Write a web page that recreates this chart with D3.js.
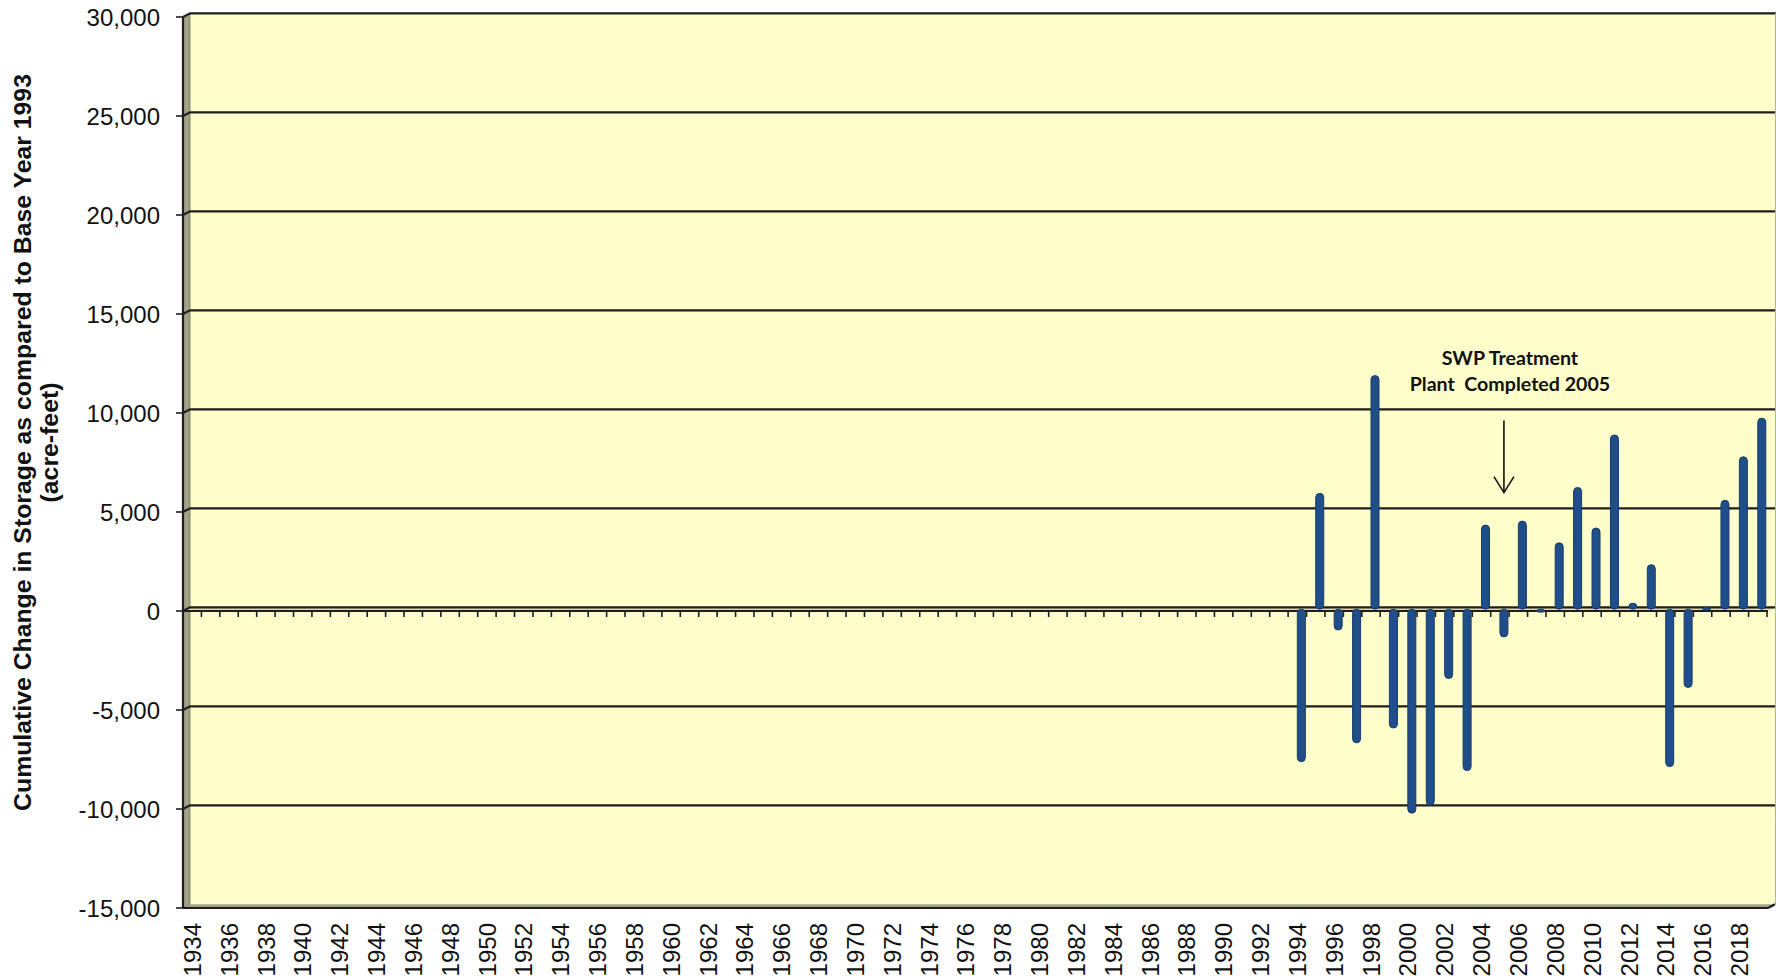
<!DOCTYPE html>
<html>
<head>
<meta charset="utf-8">
<script src="https://cdn.jsdelivr.net/npm/d3@7"></script>
<style>
  html, body { margin: 0; padding: 0; background: #ffffff; }
  svg { display: block; }
</style>
</head>
<body>
<svg id="chart" width="1776" height="979"></svg>
<script>
// ---------- data ----------
const firstYear = 1934;
const lastYear = 2019;
const barYears = [1994, 1995, 1996, 1997, 1998, 1999, 2000, 2001, 2002, 2003, 2004, 2005, 2006,
                  2007, 2008, 2009, 2010, 2011, 2012, 2013, 2014, 2015, 2016, 2017, 2018, 2019];
const barValues = [-7700, 5850, -1050, -6750, 11800, -6000, -10300, -9900, -3500, -8150, 4250, -1400, 4450,
                   -150, 3350, 6150, 4100, 8800, 300, 2250, -7950, -3950, 100, 5500, 7700, 9650];
const yTicks = [-15000, -10000, -5000, 0, 5000, 10000, 15000, 20000, 25000, 30000];
const yTitleLines = ["Cumulative Change in Storage as compared to Base Year 1993", "(acre-feet)"];
const noteLines = ["SWP Treatment", "Plant  Completed 2005"];
const noteYear = 2005;

// ---------- layout ----------
const svg = d3.select("#chart");
const W = 1776;
const years = d3.range(firstYear, lastYear + 1);
const x = d3.scaleBand().domain(years).range([183, 1767]).padding(0);
const y = d3.scaleLinear().domain([-15000, 30000]).range([908, 17]);
const DX = 7, DY = -3.7;          // back-wall depth offset (3D look)
const BDX = 4, BDY = -1.8;        // bar depth offset
const left = x.range()[0], right = x.range()[1];
const yTop = y(30000), yBot = y(-15000), y0 = y(0);
const wallCol = "#FFFFCC";
const sideCol = "#A3A186";
const lineCol = "#1e1e1e";
const fmt = v => d3.format(",")(v).replace("\u2212", "-");

// back wall
svg.append("rect")
  .attr("x", left + DX).attr("y", yTop + DY)
  .attr("width", W - (left + DX)).attr("height", yBot - yTop)
  .attr("fill", wallCol);

// left side wall
svg.append("polygon")
  .attr("points", [[left, yTop], [left + DX, yTop + DY], [left + DX, yBot + DY], [left, yBot]].join(" "))
  .attr("fill", sideCol).attr("stroke", "#6f6d58").attr("stroke-width", 0.8);

// floor
svg.append("polygon")
  .attr("points", [[left, yBot], [left + DX, yBot + DY], [W, yBot + DY], [W, yBot + DY], [right + 1, yBot]].join(" "))
  .attr("fill", sideCol);
svg.append("line")
  .attr("x1", left).attr("x2", right + 1).attr("y1", yBot).attr("y2", yBot)
  .attr("stroke", lineCol).attr("stroke-width", 2.2);
svg.append("line")
  .attr("x1", right + 1).attr("x2", right + 1 + DX).attr("y1", yBot).attr("y2", yBot + DY)
  .attr("stroke", lineCol).attr("stroke-width", 2.2);

// zero "floor" band
svg.append("polygon")
  .attr("points", [[left, y0], [left + DX, y0 + DY], [W, y0 + DY], [right + 1, y0]].join(" "))
  .attr("fill", "#DEDBAE");

// gridlines (back wall + slant on side wall)
yTicks.forEach(t => {
  if (t === -15000) return;
  svg.append("polyline")
    .attr("points", [[left, y(t)], [left + DX, y(t) + DY], [W, y(t) + DY]].join(" "))
    .attr("fill", "none").attr("stroke", lineCol).attr("stroke-width", 2.2);
});
// right edge of back wall
svg.append("line")
  .attr("x1", W - 0.5).attr("x2", W - 0.5).attr("y1", yTop + DY).attr("y2", yBot + DY)
  .attr("stroke", "#b5b39a").attr("stroke-width", 1);

// y axis
svg.append("line")
  .attr("x1", left).attr("x2", left).attr("y1", yTop).attr("y2", yBot)
  .attr("stroke", lineCol).attr("stroke-width", 2.2);
const yAxisG = svg.append("g");
yTicks.forEach(t => {
  yAxisG.append("line").attr("x1", left - 7).attr("x2", left).attr("y1", y(t)).attr("y2", y(t))
    .attr("stroke", lineCol).attr("stroke-width", 1.6);
  yAxisG.append("text")
    .attr("x", 160).attr("y", y(t)).attr("dy", "0.36em")
    .attr("text-anchor", "end")
    .attr("font-family", "'Liberation Sans', Arial, sans-serif")
    .attr("font-size", 24).attr("fill", "#111")
    .text(fmt(t));
});

// x axis at zero with category ticks
svg.append("line")
  .attr("x1", left).attr("x2", right + 1).attr("y1", y0).attr("y2", y0)
  .attr("stroke", lineCol).attr("stroke-width", 2.2);
const xTickPos = years.map(yr => x(yr)).concat([right]);
svg.append("g").selectAll("line").data(xTickPos).join("line")
  .attr("x1", d => d).attr("x2", d => d)
  .attr("y1", y0).attr("y2", y0 + 6)
  .attr("stroke", lineCol).attr("stroke-width", 1.6);

// bars
const barData = barYears.map((yr, i) => ({ year: yr, value: barValues[i] }));
const bw = 8;
svg.append("g").selectAll("rect").data(barData).join("rect")
  .attr("x", d => x(d.year) + x.bandwidth() / 2 + BDX - bw / 2)
  .attr("y", d => Math.min(y(d.value), y0) + BDY)
  .attr("width", bw)
  .attr("height", d => Math.max(Math.abs(y(d.value) - y0), 3))
  .attr("rx", 4).attr("ry", 4)
  .attr("fill", "#1F4E8A")
  .attr("stroke", "#173C69").attr("stroke-width", 1);

// x labels (every other year)
const labelYears = years.filter(yr => (yr - firstYear) % 2 === 0);
svg.append("g").selectAll("text").data(labelYears).join("text")
  .attr("transform", d => `translate(${x(d) + x.bandwidth() / 2},${yBot + 15}) rotate(-90)`)
  .attr("dy", "0.36em")
  .attr("text-anchor", "end")
  .attr("font-family", "'Liberation Sans', Arial, sans-serif")
  .attr("font-size", 24).attr("fill", "#111")
  .text(d => d);

// y title
const titleCenter = (yTop + yBot) / 2 - 20;
yTitleLines.forEach((line, i) => {
  svg.append("text")
    .attr("transform", `translate(${31 + i * 27},${titleCenter}) rotate(-90)`)
    .attr("text-anchor", "middle")
    .attr("font-family", "'Liberation Sans', Arial, sans-serif")
    .attr("font-weight", "bold")
    .attr("font-size", 24.8).attr("fill", "#111")
    .text(line);
});

// annotation
const noteX = x(noteYear) + x.bandwidth() / 2 + BDX;
const noteTextValues = [12400, 11100];
noteLines.forEach((line, i) => {
  svg.append("text")
    .attr("x", noteX + 6).attr("y", y(noteTextValues[i]))
    .attr("text-anchor", "middle")
    .attr("font-family", "Lato, 'Open Sans', sans-serif")
    .attr("font-weight", "bold")
    .attr("font-size", 19.6).attr("fill", "#111")
    .style("white-space", "pre")
    .text(line);
});
const arrowTop = y(9620), arrowTip = y(5980);
svg.append("line")
  .attr("x1", noteX).attr("x2", noteX).attr("y1", arrowTop).attr("y2", arrowTip)
  .attr("stroke", "#111").attr("stroke-width", 1.6);
svg.append("polyline")
  .attr("points", [[noteX - 10, arrowTip - 16], [noteX, arrowTip], [noteX + 10, arrowTip - 16]].join(" "))
  .attr("fill", "none").attr("stroke", "#111").attr("stroke-width", 1.6);
</script>
</body>
</html>
